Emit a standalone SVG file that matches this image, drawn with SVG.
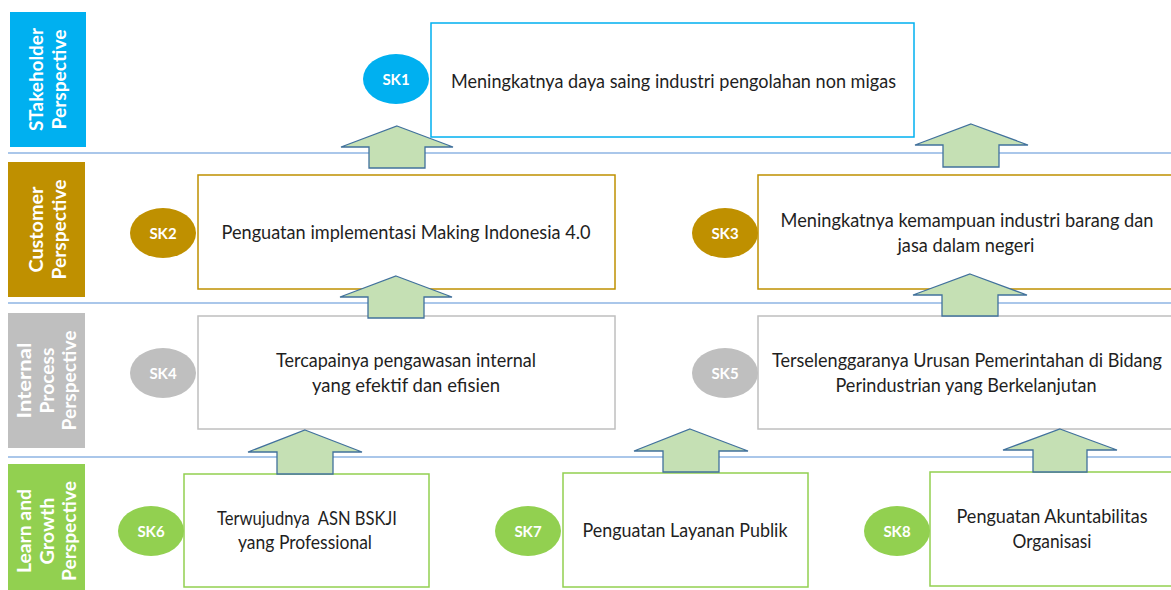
<svg xmlns="http://www.w3.org/2000/svg" width="1171" height="590" viewBox="0 0 1171 590">
  <style>
    .band-label { font-family: Lato, "Liberation Sans", sans-serif; font-weight: bold; font-size: 18.5px; fill: #ffffff; text-anchor: middle; }
    .tag { font-family: Lato, "Liberation Sans", sans-serif; font-weight: bold; font-size: 15px; fill: #ffffff; text-anchor: middle; }
    .body { font-family: Lato, "Liberation Sans", sans-serif; font-size: 18.5px; fill: #1f1f1f; text-anchor: middle; }
    .sep { stroke: #8EB4E3; stroke-width: 1.3; }
    .blue { fill: #00B0F0; }
    .gold { fill: #BF9000; }
    .grey { fill: #BFBFBF; }
    .green { fill: #92D050; }
    .box { stroke-width: 1.5; }
    .box.blue { fill: #ffffff; stroke: #00B0F0; }
    .box.gold { fill: #ffffff; stroke: #BF9000; }
    .box.grey { fill: #ffffff; stroke: #BFBFBF; }
    .box.green { fill: #ffffff; stroke: #92D050; }
    .arrow { fill: #C5E0B4; stroke: #41719C; stroke-width: 1.3; stroke-linejoin: miter; }
  </style>

  <rect width="1171" height="590" fill="#ffffff"/>

  <!-- perspective separators -->
  <g id="separators">
    <line class="sep" x1="8" y1="153" x2="1171" y2="153"/>
    <line class="sep" x1="8" y1="303" x2="1171" y2="303"/>
    <line class="sep" x1="8" y1="457" x2="1171" y2="457"/>
  </g>

  <!-- perspective bands -->
  <g id="band-stakeholder">
    <rect class="blue" x="10" y="12" width="76" height="135"/>
    <text class="band-label" transform="translate(43,79.5) rotate(-90)" textLength="103" lengthAdjust="spacingAndGlyphs">STakeholder</text>
    <text class="band-label" transform="translate(66,79.5) rotate(-90)" textLength="100" lengthAdjust="spacingAndGlyphs">Perspective</text>
  </g>
  <g id="band-customer">
    <rect class="gold" x="8" y="162" width="77" height="135"/>
    <text class="band-label" transform="translate(43,229.5) rotate(-90)" textLength="86" lengthAdjust="spacingAndGlyphs">Customer</text>
    <text class="band-label" transform="translate(66,229.5) rotate(-90)" textLength="100" lengthAdjust="spacingAndGlyphs">Perspective</text>
  </g>
  <g id="band-internal">
    <rect class="grey" x="8" y="313" width="77" height="135"/>
    <text class="band-label" transform="translate(31,380.5) rotate(-90)" textLength="76" lengthAdjust="spacingAndGlyphs">Internal</text>
    <text class="band-label" transform="translate(54,380.5) rotate(-90)" textLength="66" lengthAdjust="spacingAndGlyphs">Process</text>
    <text class="band-label" transform="translate(76,380.5) rotate(-90)" textLength="100" lengthAdjust="spacingAndGlyphs">Perspective</text>
  </g>
  <g id="band-learn">
    <rect class="green" x="8" y="464" width="77" height="135"/>
    <text class="band-label" transform="translate(31,531) rotate(-90)" textLength="84" lengthAdjust="spacingAndGlyphs">Learn and</text>
    <text class="band-label" transform="translate(54,531) rotate(-90)" textLength="67" lengthAdjust="spacingAndGlyphs">Growth</text>
    <text class="band-label" transform="translate(76,531) rotate(-90)" textLength="100" lengthAdjust="spacingAndGlyphs">Perspective</text>
  </g>

  <!-- strategic objectives -->
  <g id="sk1">
    <rect class="box blue" x="431" y="23" width="483" height="114"/>
    <ellipse class="blue" cx="396" cy="79" rx="33" ry="25"/>
    <text class="tag" x="396" y="84.5">SK1</text>
    <text class="body" x="673.5" y="88" textLength="445" lengthAdjust="spacingAndGlyphs">Meningkatnya daya saing industri pengolahan non migas</text>
  </g>
  <g id="sk2">
    <rect class="box gold" x="198" y="175" width="417" height="114"/>
    <ellipse class="gold" cx="163" cy="233" rx="33" ry="25"/>
    <text class="tag" x="163" y="238.5">SK2</text>
    <text class="body" x="406" y="239" textLength="369" lengthAdjust="spacingAndGlyphs">Penguatan implementasi Making Indonesia 4.0</text>
  </g>
  <g id="sk3">
    <rect class="box gold" x="758" y="175" width="420" height="114"/>
    <ellipse class="gold" cx="725" cy="233" rx="33" ry="25"/>
    <text class="tag" x="725" y="238.5">SK3</text>
    <text class="body" x="967" y="227" textLength="373" lengthAdjust="spacingAndGlyphs">Meningkatnya kemampuan industri barang dan</text>
    <text class="body" x="966" y="252" textLength="137" lengthAdjust="spacingAndGlyphs">jasa dalam negeri</text>
  </g>
  <g id="sk4">
    <rect class="box grey" x="198" y="316" width="417" height="113"/>
    <ellipse class="grey" cx="163" cy="373" rx="33" ry="25"/>
    <text class="tag" x="163" y="378.5">SK4</text>
    <text class="body" x="406" y="367" textLength="260" lengthAdjust="spacingAndGlyphs">Tercapainya pengawasan internal</text>
    <text class="body" x="406" y="392" textLength="188" lengthAdjust="spacingAndGlyphs">yang efektif dan efisien</text>
  </g>
  <g id="sk5">
    <rect class="box grey" x="758" y="316" width="420" height="113"/>
    <ellipse class="grey" cx="725" cy="373" rx="33" ry="25"/>
    <text class="tag" x="725" y="378.5">SK5</text>
    <text class="body" x="967" y="367" textLength="390" lengthAdjust="spacingAndGlyphs">Terselenggaranya Urusan Pemerintahan di Bidang</text>
    <text class="body" x="966" y="392" textLength="261" lengthAdjust="spacingAndGlyphs">Perindustrian yang Berkelanjutan</text>
  </g>
  <g id="sk6">
    <rect class="box green" x="184" y="474" width="245" height="113"/>
    <ellipse class="green" cx="151" cy="531" rx="33" ry="25"/>
    <text class="tag" x="151" y="536.5">SK6</text>
    <text class="body" x="307" y="525" textLength="180" lengthAdjust="spacingAndGlyphs" style="white-space:pre">Terwujudnya  ASN BSKJI</text>
    <text class="body" x="305" y="549" textLength="134" lengthAdjust="spacingAndGlyphs">yang Professional</text>
  </g>
  <g id="sk7">
    <rect class="box green" x="563" y="473" width="245" height="114"/>
    <ellipse class="green" cx="528" cy="531" rx="33" ry="25"/>
    <text class="tag" x="528" y="536.5">SK7</text>
    <text class="body" x="685" y="537" textLength="205" lengthAdjust="spacingAndGlyphs">Penguatan Layanan Publik</text>
  </g>
  <g id="sk8">
    <rect class="box green" x="930" y="472" width="248" height="114"/>
    <ellipse class="green" cx="897" cy="531" rx="33" ry="25"/>
    <text class="tag" x="897" y="536.5">SK8</text>
    <text class="body" x="1052" y="523" textLength="191" lengthAdjust="spacingAndGlyphs">Penguatan Akuntabilitas</text>
    <text class="body" x="1052" y="548" textLength="79" lengthAdjust="spacingAndGlyphs">Organisasi</text>
  </g>

  <!-- upward block arrows between perspectives -->
  <g id="connectors">
    <polygon class="arrow" points="397,126 453,147 425,147 425,168 369,168 369,147 341,147"/>
    <polygon class="arrow" points="971,124 1028,145 999,145 999,167 943,167 943,145 915,145"/>
    <polygon class="arrow" points="396,276 452,297 424,297 424,318 368,318 368,297 340,297"/>
    <polygon class="arrow" points="970,274 1027,295 998,295 998,316 942,316 942,295 913,295"/>
    <polygon class="arrow" points="305,430 362,452 333,452 333,474 277,474 277,452 248,452"/>
    <polygon class="arrow" points="690,429 748,451 719,451 719,472 663,472 663,451 634,451"/>
    <polygon class="arrow" points="1060,429 1117,450 1087,450 1087,472 1033,472 1033,450 1003,450"/>
  </g>
</svg>
